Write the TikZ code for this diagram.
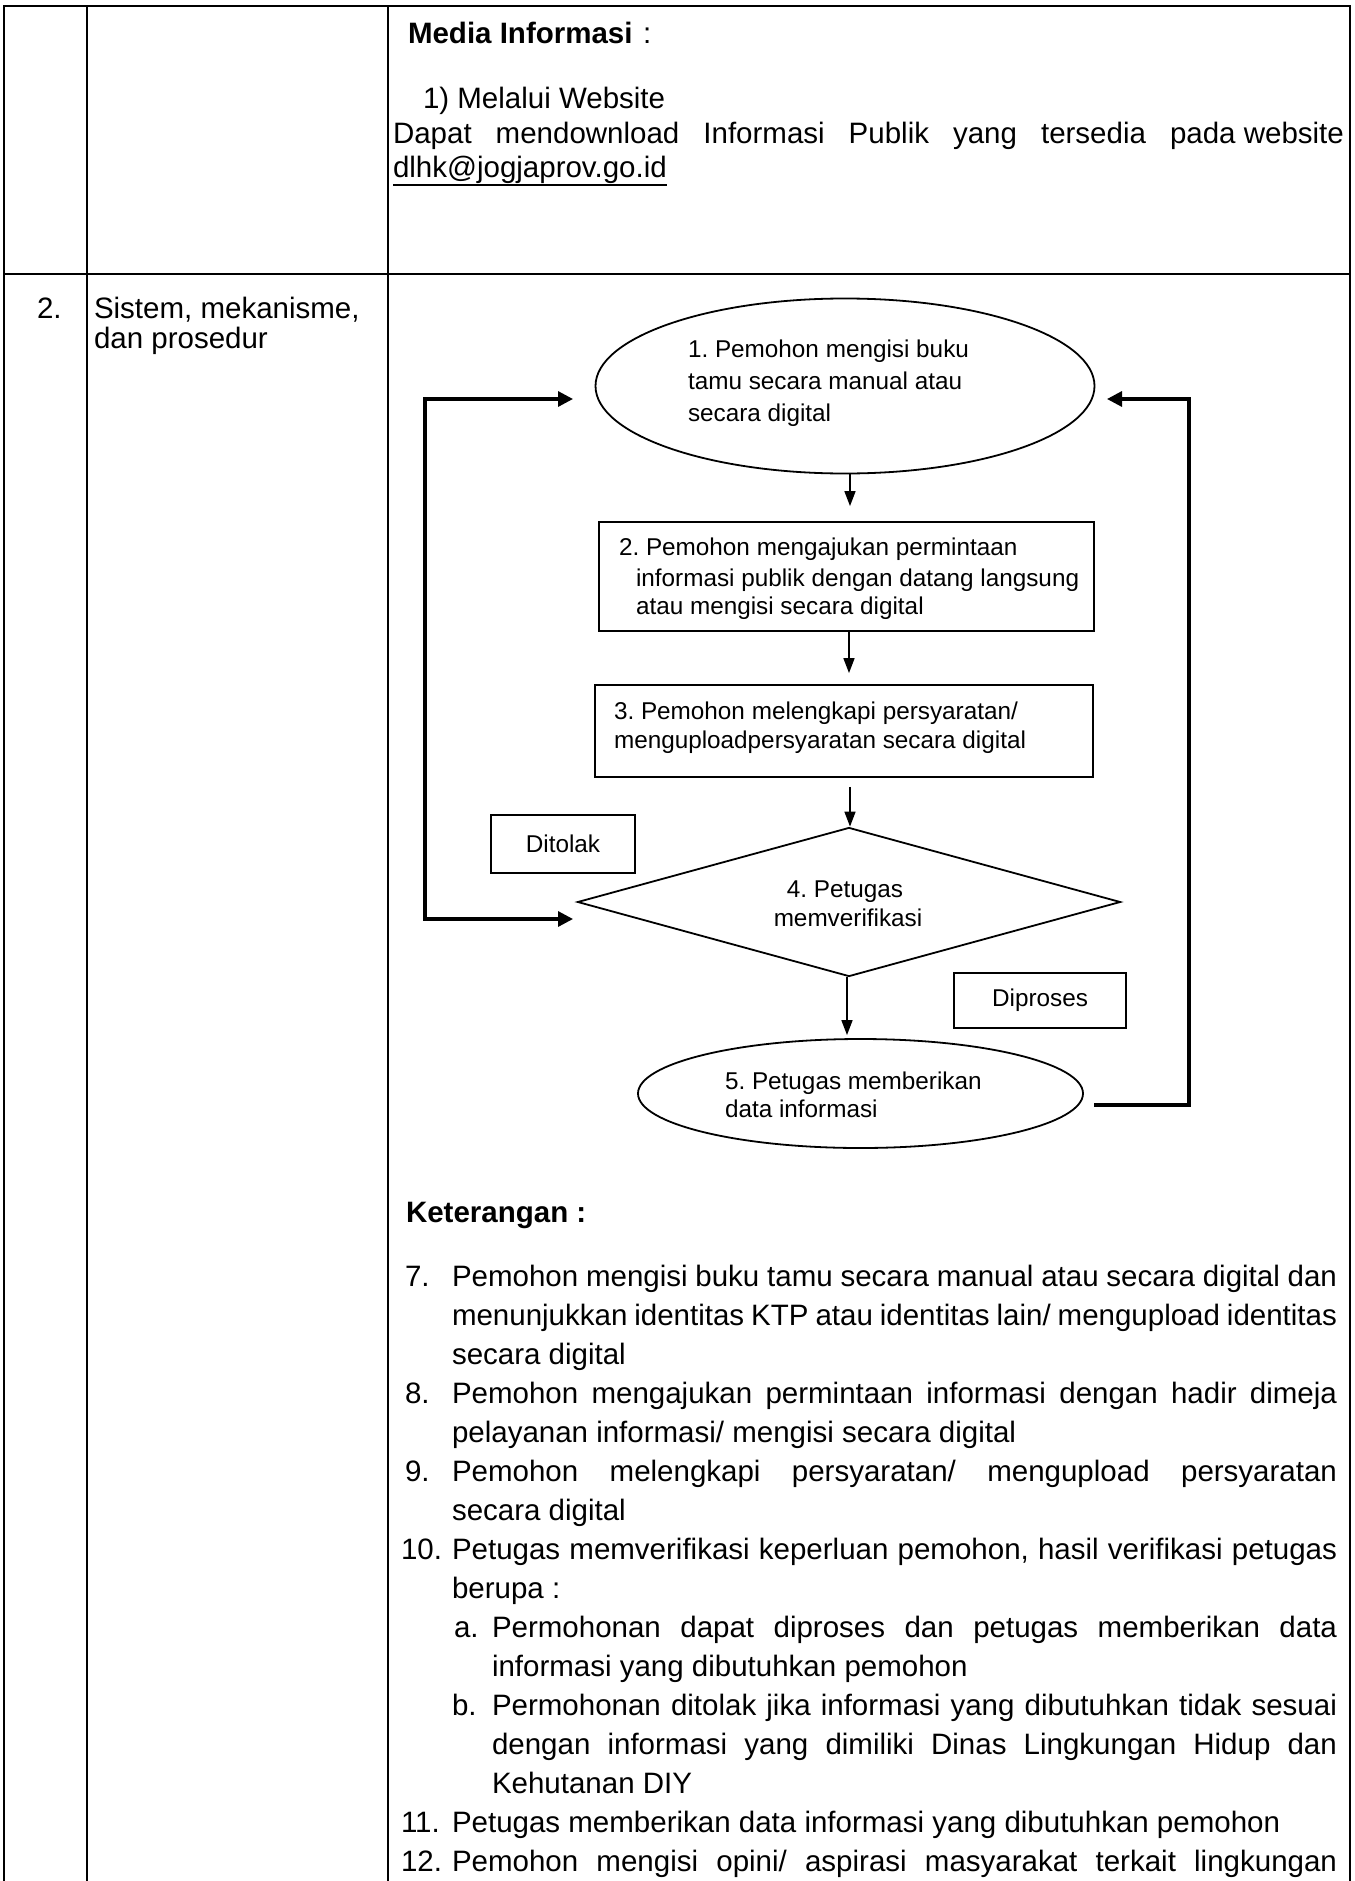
\documentclass[tikz,border=0pt]{standalone}
\usepackage{fontspec}
\setmainfont{Liberation Sans}
\usetikzlibrary{shapes.geometric,arrows.meta}
\frenchspacing
\tikzset{
  tline/.style={line width=2.2pt},
  body/.style={anchor=base west, inner sep=0pt, outer sep=0pt, font=\fontsize{29.5}{38}\selectfont\frenchspacing},
  ftext/.style={anchor=base west, inner sep=0pt, outer sep=0pt, font=\fontsize{24.3}{31}\selectfont\frenchspacing},
  shapeline/.style={draw, line width=1.8pt, inner sep=0pt},
  oval/.style={shapeline, ellipse},
  boxnode/.style={shapeline, rectangle},
  decision/.style={shapeline, diamond},
  tagbox/.style={shapeline, rectangle, font=\fontsize{24.3}{30}\selectfont},
  thinarr/.style={line width=1.6pt, -{Triangle[length=15pt,width=11pt]}},
  thickarr/.style={line width=3.2pt, -{Triangle[length=15pt,width=15pt]}},
  thickloop/.style={line width=3.2pt, {Triangle[length=15pt,width=15pt]}-{Triangle[length=15pt,width=15pt]}},
}
\newcommand{\jline}[2]{\makebox[#1pt][s]{#2}}
\begin{document}
\begin{tikzpicture}[x=1pt,y=-1pt]
\useasboundingbox (0,0) rectangle (1354,1881);
\fill[white] (0,0) rectangle (1354,1881);
% ---- table ----
\draw[tline] (4,1881) -- (4,6) -- (1350,6) -- (1350,1881);
\draw[tline] (87,6) -- (87,1881);
\draw[tline] (388,6) -- (388,1881);
\draw[tline] (4,274) -- (1350,274);
% ---- row 1 ----
\node[body] (mi) at (408,44) {\textbf{Media Informasi}};
\node[body] (mic) at (643,44) {:};
\node[body] (web) at (423,109) {1) Melalui Website};
\node[body] (dapat) at (393,144) {\jline{951}{Dapat mendownload Informasi Publik yang tersedia \mbox{pada website}}};
\node[body] (url) at (393,178) {dlhk@jogjaprov.go.id};
\draw[line width=2pt] ([yshift=-1]url.south west) -- ([yshift=-1]url.south east);
% ---- row 2 ----
\node[body] (no2) at (37,318) {2.};
\node[body] (sis1) at (94,318) {Sistem, mekanisme,};
\node[body] (sis2) at (94,348) {dan prosedur};
% ---- flowchart shapes ----
\node[oval, minimum width=499pt, minimum height=175pt] (e1) at (845,386) {};
\node[boxnode, minimum width=495pt, minimum height=109pt] (b2) at (846.5,576.5) {};
\node[boxnode, minimum width=498pt, minimum height=92pt] (b3) at (844,731) {};
\node[decision, minimum width=543pt, minimum height=149pt] (d4) at (849,902) {};
\node[oval, minimum width=445pt, minimum height=109pt] (e5) at (860.5,1093.5) {};
\node[tagbox, minimum width=144pt, minimum height=58pt] (tol) at (563,844) {Ditolak};
\node[tagbox, minimum width=172pt, minimum height=55pt] (pro) at (1040,1000.5) {Diproses};
% ---- flowchart texts ----
\node[ftext] (t1a) at (688,357) {1. Pemohon mengisi buku};
\node[ftext] (t1b) at (688,389) {tamu secara manual atau};
\node[ftext] (t1c) at (688,421) {secara digital};
\node[ftext] (t2a) at (619,555) {2. Pemohon mengajukan permintaan};
\node[ftext] (t2b) at (636,586) {informasi publik dengan datang langsung};
\node[ftext] (t2c) at (636,614) {atau mengisi secara digital};
\node[ftext] (t3a) at (614,719) {3. Pemohon melengkapi persyaratan/};
\node[ftext] (t3b) at (614,748) {menguploadpersyaratan secara digital};
\node[ftext, anchor=base] (t4a) at (845,897) {4. Petugas};
\node[ftext, anchor=base] (t4b) at (848,926) {memverifikasi};
\node[ftext] (t5a) at (725,1089) {5. Petugas memberikan};
\node[ftext] (t5b) at (725,1117) {data informasi};
% ---- connectors ----
\coordinate (c12) at (850,0);
\coordinate (c23) at (849,0);
\coordinate (c34) at (850,0);
\coordinate (c45) at (847,0);
\draw[thinarr, shorten >=15pt] (e1.south -| c12) -- (b2.north -| c12);
\draw[thinarr, shorten >=11pt] (b2.south -| c23) -- (b3.north -| c23);
\draw[thinarr, shorten <=9pt] (b3.south -| c34) -- (d4.north -| c34);
\draw[thinarr, shorten >=3pt] (d4.south -| c45) -- (e5.north -| c45);
\coordinate (lx) at (425,0);
\coordinate (rx) at (1189,0);
\coordinate (inE1l) at (573,399);
\coordinate (inD4) at (573,919);
\coordinate (inE1r) at (1107,399);
\coordinate (outE5) at (1094,1105);
\draw[thickloop] (inD4) -- (inD4 -| lx) |- (inE1l);
\draw[thickarr] (outE5) -- (outE5 -| rx) |- (inE1r);
% ---- keterangan ----
\node[body] (ket) at (406,1222) {\textbf{Keterangan :}};
\node[body] (n7) at (405,1286) {7.};
\node[body] (k7a) at (452,1286) {\jline{885}{Pemohon mengisi buku tamu secara manual atau secara digital dan}};
\node[body] (k7b) at (452,1325) {\jline{885}{menunjukkan identitas KTP atau identitas lain/ mengupload identitas}};
\node[body] (k7c) at (452,1364) {secara digital};
\node[body] (n8) at (405,1403) {8.};
\node[body] (k8a) at (452,1403) {\jline{885}{Pemohon mengajukan permintaan informasi dengan hadir dimeja}};
\node[body] (k8b) at (452,1442) {pelayanan informasi/ mengisi secara digital};
\node[body] (n9) at (405,1481) {9.};
\node[body] (k9a) at (452,1481) {\jline{885}{Pemohon melengkapi persyaratan/ mengupload persyaratan}};
\node[body] (k9b) at (452,1520) {secara digital};
\node[body] (n10) at (401,1559) {10.};
\node[body] (k10a) at (452,1559) {\jline{885}{Petugas memverifikasi keperluan pemohon, hasil verifikasi petugas}};
\node[body] (k10b) at (452,1598) {berupa :};
\node[body] (na) at (454,1637) {a.};
\node[body] (kaa) at (492,1637) {\jline{845}{Permohonan dapat diproses dan petugas memberikan data}};
\node[body] (kab) at (492,1676) {informasi yang dibutuhkan pemohon};
\node[body] (nb) at (452,1715) {b.};
\node[body] (kba) at (492,1715) {\jline{845}{Permohonan ditolak jika informasi yang dibutuhkan tidak sesuai}};
\node[body] (kbb) at (492,1754) {\jline{845}{dengan informasi yang dimiliki Dinas Lingkungan Hidup dan}};
\node[body] (kbc) at (492,1793) {Kehutanan DIY};
\node[body] (n11) at (401,1832) {11.};
\node[body] (k11) at (452,1832) {Petugas memberikan data informasi yang dibutuhkan pemohon};
\node[body] (n12) at (401,1871) {12.};
\node[body] (k12) at (452,1871) {\jline{885}{Pemohon mengisi opini/ aspirasi masyarakat terkait lingkungan}};
\end{tikzpicture}
\end{document}
